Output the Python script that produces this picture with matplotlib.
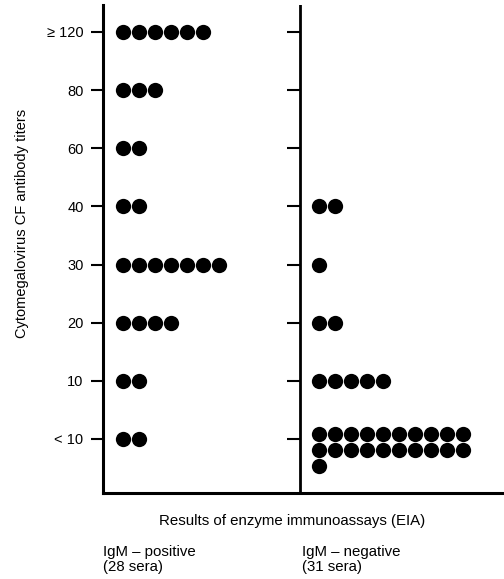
import numpy as np
import matplotlib
matplotlib.use('Agg')
import matplotlib.pyplot as plt

plt.rcParams['font.family'] = ['Liberation Sans', 'DejaVu Sans']

# titer levels, bottom to top
levels = ['< 10', '10', '20', '30', '40', '60', '80', '≥ 120']
# number of sera at each level
igm_positive = [2, 2, 4, 7, 2, 2, 3, 6]
igm_negative = [21, 5, 2, 1, 2, 0, 0, 0]

group_labels = ['IgM – positive\n(28 sera)', 'IgM – negative\n(31 sera)']

fig = plt.figure(figsize=(5.04, 5.79), dpi=100)
ax = fig.add_axes([0.2044, 0.1485, 0.7917, 0.843])

# x in dot-width units
pos_start = 1.25
neg_start = 13.5
divider = 12.31
row_max = 10
row_step = 0.28  # vertical stacking step in level units

def draw_group(counts, x_start):
    for lvl, n in enumerate(counts):
        if n == 0:
            continue
        if n <= row_max:
            xs = x_start + np.arange(n)
            ax.plot(xs, np.full(n, lvl), 'o', color='black', ms=11, mec='none')
        else:
            rows = int(np.ceil(n / row_max))
            left = n
            for r in range(rows):
                k = min(row_max, left)
                left -= k
                xs = x_start + np.arange(k)
                y = lvl + 0.09 - r * row_step
                ax.plot(xs, np.full(k, y), 'o', color='black', ms=11, mec='none')

draw_group(igm_positive, pos_start)
draw_group(igm_negative, neg_start)

# divider with its own ticks
ax.axvline(divider, color='black', lw=2)
ax.hlines(range(len(levels)), divider - 0.8, divider, color='black', lw=1.5)

ax.set_xlim(0, 24.94)
ax.set_ylim(-0.929, 7.464)
ax.set_yticks(range(len(levels)))
ax.set_yticklabels(levels, fontsize=10.5)
ax.set_xticks([])
ax.tick_params(axis='y', length=9, width=1.5, pad=5)

for s in ['top', 'right']:
    ax.spines[s].set_visible(False)
ax.spines['left'].set_linewidth(2.2)
ax.spines['bottom'].set_linewidth(2.2)

ax.set_ylabel('Cytomegalovirus CF antibody titers', fontsize=10.5, labelpad=14)
ax.yaxis.set_label_coords(-0.185, 0.553)

fig.text(292 / 504, 1 - 521 / 579, 'Results of enzyme immunoassays (EIA)',
         ha='center', va='center', fontsize=10.8)
fig.text(103 / 504, 1 - 545 / 579, group_labels[0], ha='left', va='top',
         fontsize=10.8, linespacing=1.1)
fig.text(302 / 504, 1 - 545 / 579, group_labels[1], ha='left', va='top',
         fontsize=10.8, linespacing=1.1)

fig.savefig('out.png', dpi=100)
